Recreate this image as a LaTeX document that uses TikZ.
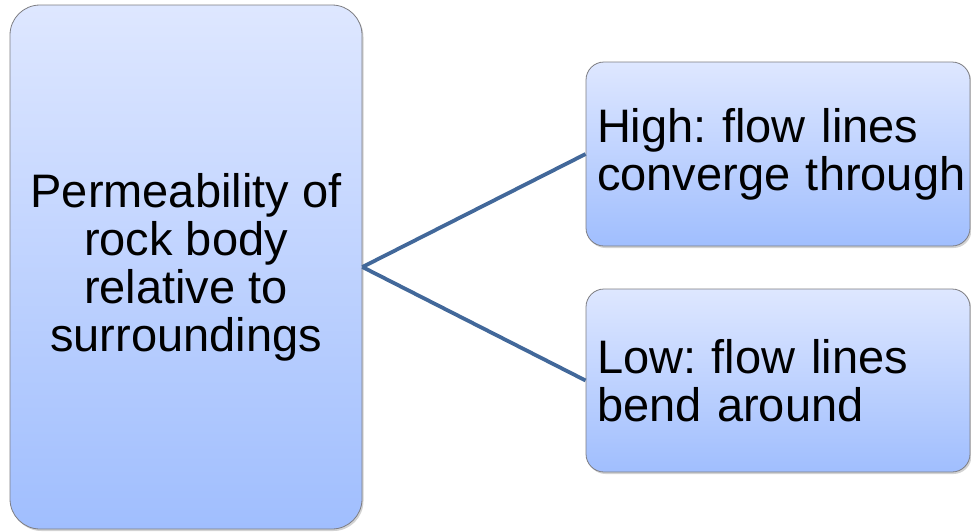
\documentclass[tikz,border=0pt]{standalone}
\usepackage{fontspec}
\setmainfont{Liberation Sans}
\usetikzlibrary{shadows}
\definecolor{boxtop}{RGB}{222,231,255}
\definecolor{boxbottom}{RGB}{160,190,254}
\definecolor{boxline}{RGB}{125,125,130}
\definecolor{linkblue}{RGB}{66,104,154}
\frenchspacing

\begin{document}
\begin{tikzpicture}[x=1pt,y=-1pt]
		\useasboundingbox (0,0) rectangle (971,531);
		\begin{scope}[every node/.style={rectangle,draw=boxline,line width=0.8pt,
				top color=boxtop,bottom color=boxbottom,inner sep=0pt,
				drop shadow={opacity=0.35,shadow xshift=1.5pt,shadow yshift=-2pt},
				font=\fontsize{47}{48}\selectfont}]
			\node[rounded corners=30pt, minimum width=352pt, minimum height=524pt, align=center] (PR) at (186,267) {Permeability of\\rock body\\relative to\\surroundings};
			\node[rounded corners=18pt, minimum width=384pt, minimum height=184pt, text width=362pt, align=left] (HI) at (778,154) {High: flow lines\\converge~through};
			\node[rounded corners=18pt, minimum width=384pt, minimum height=183pt, text width=362pt, align=left] (LO) at (778,380.5) {Low: flow lines\\bend around};
		\end{scope}
		
		\tikzstyle{link} = [line width=3.8pt,color=linkblue]
		\draw [link] (PR.east) -- (HI.west);
		\draw [link] (PR.east) -- (LO.west);
		
	\end{tikzpicture}
\end{document}
